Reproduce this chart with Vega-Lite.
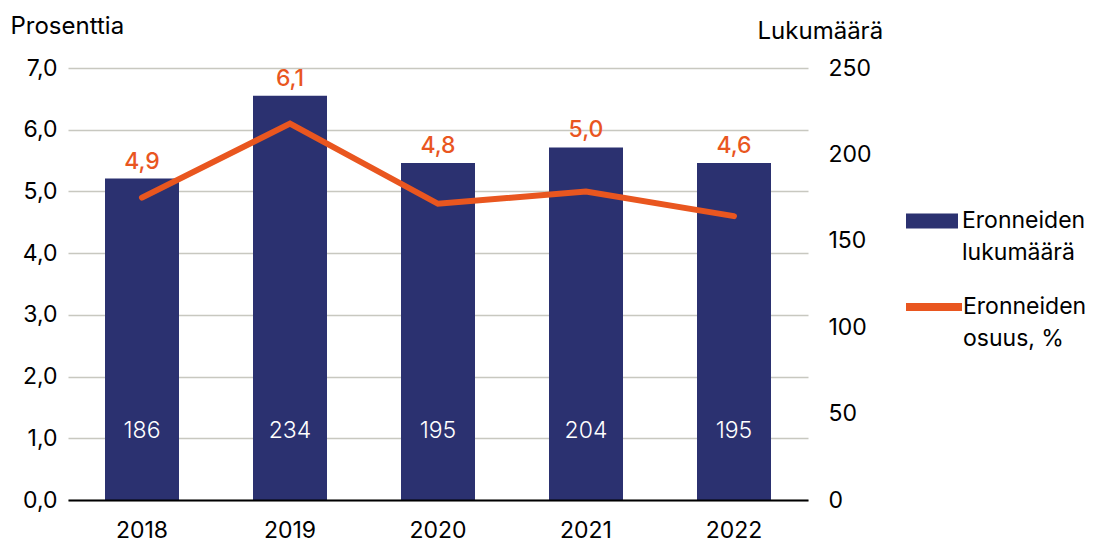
{
  "$schema": "https://vega.github.io/schema/vega-lite/v6.json",
  "width": 740,
  "height": 432,
  "autosize": "none",
  "padding": {"left": 68, "top": 68, "right": 289, "bottom": 45},
  "data": {"values": [
    {"year": "2018", "count": 186, "pct": 4.9},
    {"year": "2019", "count": 234, "pct": 6.1},
    {"year": "2020", "count": 195, "pct": 4.8},
    {"year": "2021", "count": 204, "pct": 5.0},
    {"year": "2022", "count": 195, "pct": 4.6}
  ]},
  "encoding": {
    "x": {"field": "year", "type": "nominal", "sort": null,
      "scale": {"paddingInner": 0.5, "paddingOuter": 0.25},
      "axis": {"title": null, "labelAngle": 0, "ticks": false, "domainColor": "#000000", "domainWidth": 2, "labelPadding": 19, "zindex": 1}}
  },
  "layer": [
    {
      "encoding": {
        "y": {"field": "count", "type": "quantitative",
          "scale": {"domain": [0, 250], "nice": false},
          "axis": {"orient": "right", "values": [0, 50, 100, 150, 200, 250], "grid": false, "domain": false, "ticks": false, "labelPadding": 20, "labelAlign": "left",
            "title": "Lukumäärä", "titleAngle": 0, "titleAlign": "left", "titleBaseline": "alphabetic", "titleX": -51, "titleY": -30}}
      },
      "layer": [
        {"mark": {"type": "bar"},
          "encoding": {"color": {"datum": "Eronneiden lukumäärä", "type": "nominal",
            "scale": {"range": ["#2b3170"]},
            "legend": {"title": null, "orient": "none", "legendX": 838, "legendY": 127,
              "symbolType": "M-1,-0.29H1V0.29H-1Z", "symbolSize": 2704, "symbolStrokeWidth": 0,
              "labelExpr": "['Eronneiden', 'lukumäärä']"}}}},
        {"mark": {"type": "text", "color": "#ffffff", "baseline": "middle", "fontWeight": 300},
          "encoding": {"y": {"datum": 40}, "text": {"field": "count", "type": "quantitative"}}},
        {"mark": {"type": "text", "color": "#e9561f", "baseline": "middle", "dy": -17, "fontWeight": 500},
          "encoding": {"text": {"field": "pct", "type": "quantitative", "format": ".1f"}}}
      ]
    },
    {
      "mark": {"type": "line", "strokeWidth": 6, "strokeCap": "round", "strokeJoin": "miter"},
      "encoding": {
        "y": {"field": "pct", "type": "quantitative",
          "scale": {"domain": [0, 7], "nice": false},
          "axis": {"orient": "left", "values": [0, 1, 2, 3, 4, 5, 6, 7], "format": ".1f", "grid": true, "gridColor": "#c8c8c0", "gridWidth": 1.5, "domain": false, "ticks": false, "labelPadding": 11,
            "title": "Prosenttia", "titleAngle": 0, "titleAlign": "left", "titleBaseline": "alphabetic", "titleX": -58, "titleY": -35}},
        "stroke": {"datum": "Eronneiden osuus, %", "type": "nominal",
          "scale": {"range": ["#e9561f"]},
          "legend": {"title": null, "orient": "none", "legendX": 834, "legendY": 207,
            "symbolType": "stroke", "symbolSize": 3136, "symbolStrokeWidth": 8, "labelOffset": -3,
            "labelExpr": "['Eronneiden', 'osuus, %']"}}
      }
    }
  ],
  "resolve": {"scale": {"y": "independent"}},
  "config": {
    "locale": {"number": {"decimal": ",", "thousands": "\u00a0", "grouping": [3], "currency": ["", "\u00a0€"]}},
    "font": "Inter",
    "view": {"stroke": null},
    "axis": {"labelFontSize": 23, "labelColor": "#000000", "titleFontSize": 24, "titleFontWeight": "normal", "titleColor": "#000000", "labelFont": "Inter", "titleFont": "Inter"},
    "legend": {"labelFontSize": 23, "labelColor": "#000000", "labelFont": "Inter", "padding": 0, "labelOffset": 4, "labelLimit": 300},
    "text": {"fontSize": 23, "font": "Inter"},
    "style": {"guide-label": {"lineHeight": 32}}
  }
}
